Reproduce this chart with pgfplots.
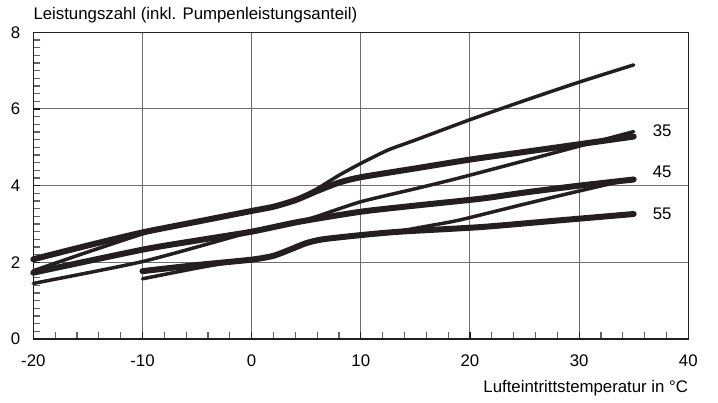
\documentclass[border=0pt]{standalone}
\usepackage{fontspec}
\setmainfont{Liberation Sans}
\usepackage{pgfplots}
\pgfplotsset{compat=1.18}
\definecolor{ink}{HTML}{231F20}
\definecolor{gridc}{HTML}{6E6E6E}

\begin{document}
\begin{tikzpicture}[font=\fontsize{16.8}{20}\selectfont]
\useasboundingbox (-33.3pt,-64pt) rectangle (684.7pt,339pt);
\begin{axis}[
    scale only axis,
    width=655pt, height=306.7pt,
    xmin=-20, xmax=40, ymin=0, ymax=8,
    xtick={-20,-10,...,40}, xticklabels={-20,-10,0,10,20,30,40},
    ytick={0,2,...,8}, yticklabels={0,2,4,6,8},
    minor x tick num=4, minor y tick num=9,
    tick align=inside, xtick pos=bottom, ytick pos=left,
    major tick length=7pt, minor tick length=7pt,
    major tick style={ink, line width=1.2pt},
    minor tick style={ink!70, line width=1.2pt},
    grid=major, major grid style={gridc, line width=1pt},
    axis line style={ink, line width=1.5pt},
    clip=false,
    every tick label/.append style={font=\fontsize{16.8}{20}\selectfont},
    yticklabel style={inner sep=0pt, xshift=-13pt},
    xticklabel style={inner sep=0pt, yshift=-16pt},
    thickc/.style={ink, line width=6pt, line cap=round, line join=round,
                   smooth, tension=0.4},
    thinc/.style={ink, line width=3.5pt, line cap=round, line join=round,
                  smooth, tension=0.4},
]

% thin curves
\addplot[thinc] coordinates {
    (-20,1.78) (-15,2.27) (-10,2.74) (-8,2.89) (-5,3.07) (0,3.34) (2,3.45)
    (4,3.63) (6,3.92) (8,4.27) (10,4.58) (12.5,4.93) (15,5.19) (20,5.72)
    (25,6.22) (30,6.70) (35,7.15)};
\addplot[thinc] coordinates {
    (-20,1.45) (-10,2.02) (-1,2.72) (0,2.80) (4,3.03) (6,3.20) (10,3.58)
    (15,3.92) (19,4.20) (25,4.65) (30,5.03) (35,5.41)};
\addplot[thinc] coordinates {
    (-10,1.57) (-5,1.85) (-1,2.05) (0,2.08) (2,2.18) (3.5,2.33) (5,2.50)
    (6.5,2.60) (10,2.71) (13,2.79) (16,2.94) (19,3.10) (25,3.52)
    (30,3.86) (35,4.19)};

% thick curves
\addplot[thickc] coordinates {
    (-20,2.08) (-15,2.44) (-10,2.78) (-5,3.06) (0,3.34) (2,3.45) (4,3.62)
    (6,3.86) (8,4.08) (10,4.22) (15,4.45) (20,4.68) (25,4.88) (30,5.08)
    (35,5.28)};
\addplot[thickc] coordinates {
    (-20,1.73) (-10,2.33) (-5,2.57) (0,2.80) (4.4,3.06) (10,3.32) (15,3.48)
    (21,3.66) (25,3.82) (30,4.00) (35,4.16)};
\addplot[thickc] coordinates {
    (-10,1.77) (-5,1.93) (0,2.07) (2,2.17) (3.5,2.33) (5,2.50) (6.5,2.60)
    (10,2.71) (13.6,2.80) (21,2.92) (28,3.09) (35,3.26)};

\node at (axis cs:37.6,5.42) {35};
\node at (axis cs:37.6,4.36) {45};
\node at (axis cs:37.6,3.27) {55};

\node[anchor=base west, inner sep=0pt, yshift=13.3pt] at (rel axis cs:0,1)
    {Leistungszahl (inkl. Pumpenleistungsanteil)};
\node[anchor=base east, inner sep=0pt, yshift=-53.5pt] at (rel axis cs:1,0)
    {Lufteintrittstemperatur in °C};
\end{axis}
\end{tikzpicture}
\end{document}
